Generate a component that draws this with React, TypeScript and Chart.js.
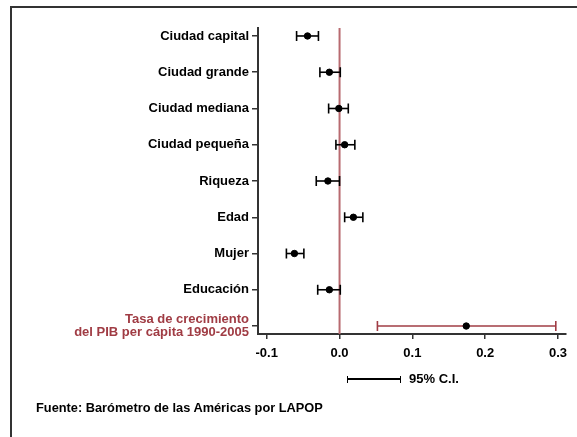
import React, { useEffect, useRef } from "react";
import { Chart, registerables } from "chart.js";

Chart.register(...registerables);

const categories = [
  "Ciudad capital",
  "Ciudad grande",
  "Ciudad mediana",
  "Ciudad pequeña",
  "Riqueza",
  "Edad",
  "Mujer",
  "Educación",
  "Tasa de crecimiento|del PIB per cápita 1990-2005",
];
const estimates = [-0.044, -0.014, -0.001, 0.007, -0.016, 0.019, -0.062, -0.014, 0.174];
const lowerCI = [-0.059, -0.027, -0.015, -0.005, -0.032, 0.007, -0.073, -0.03, 0.052];
const upperCI = [-0.029, 0.001, 0.012, 0.021, 0.0, 0.032, -0.049, 0.001, 0.297];
const xTicks = [-0.1, 0.0, 0.1, 0.2, 0.3];

const RED = "#a03c44";
const ZERO = "#b86a70";
const FONT = "'Liberation Sans', Arial, sans-serif";

export default function App() {
  const ref = useRef<HTMLCanvasElement | null>(null);

  useEffect(() => {
    document.body.style.margin = "0";
    const ctx = ref.current!;
    const ciSets = categories.map((c, i) => {
      const col = i === categories.length - 1 ? RED : "#000";
      return {
        type: "line" as const,
        order: 2,
        data: [
          { x: lowerCI[i], y: i + 1 },
          { x: upperCI[i], y: i + 1 },
        ],
        borderColor: col,
        borderWidth: 1.6,
        pointStyle: "line" as const,
        rotation: 90,
        pointRadius: 5,
        pointBorderColor: col,
        pointBorderWidth: 1.6,
        showLine: true,
        fill: false,
      };
    });
    const zeroPlugin = {
      id: "zeroLine",
      beforeDatasetsDraw(chart: any) {
        const x = chart.scales.x.getPixelForValue(0);
        const { top, bottom } = chart.chartArea;
        const c = chart.ctx;
        c.save();
        c.strokeStyle = ZERO;
        c.lineWidth = 2;
        c.beginPath();
        c.moveTo(x, top);
        c.lineTo(x, bottom);
        c.stroke();
        c.restore();
      },
    };
    const chart = new Chart(ctx, {
      type: "scatter",
      data: {
        datasets: [
          ...ciSets,
          {
            type: "scatter" as const,
            order: 0,
            data: estimates.map((v, i) => ({ x: v, y: i + 1 })),
            backgroundColor: "#000",
            borderColor: "#000",
            pointRadius: 3.2,
          },
        ] as any,
      },
      options: {
        animation: false,
        responsive: false,
        maintainAspectRatio: false,
        layout: { padding: { top: 28, right: 11, left: 0, bottom: 0 } },
        plugins: { legend: { display: false }, tooltip: { enabled: false } },
        scales: {
          x: {
            type: "linear",
            min: -0.112,
            max: 0.311,
            afterBuildTicks: (s: any) => {
              s.ticks = xTicks.map((v) => ({ value: v }));
            },
            afterFit: (s: any) => {
              s.height = 437 - 334;
            },
            border: { display: true, color: "#333", width: 2 },
            grid: { drawOnChartArea: false, drawTicks: true, tickLength: 5, color: "#333", lineWidth: 1.5 },
            ticks: {
              color: "#000",
              font: { family: FONT, size: 13, weight: "bold" },
              padding: 7,
              callback: (v: any) => Number(v).toFixed(1),
            },
          },
          y: {
            type: "linear",
            reverse: true,
            min: 0.78,
            max: 9.22,
            afterBuildTicks: (s: any) => {
              s.ticks = categories.map((_, i) => ({ value: i + 1 }));
            },
            afterFit: (s: any) => {
              s.width = 258;
            },
            border: { display: true, color: "#333", width: 2 },
            grid: { drawOnChartArea: false, drawTicks: true, tickLength: 6, color: "#333", lineWidth: 1.5 },
            ticks: {
              color: (c: any) => (c.index === categories.length - 1 ? RED : "#000"),
              font: { family: FONT, size: 13, weight: "bold", lineHeight: 0.95 },
              padding: 3,
              callback: (v: any) => {
                const lab = categories[Math.round(Number(v)) - 1] || "";
                return lab.includes("|") ? lab.split("|") : lab;
              },
            },
          },
        },
      },
      plugins: [zeroPlugin],
    } as any);
    return () => chart.destroy();
  }, []);

  return (
    <div style={{ position: "absolute", left: 0, top: 0, width: 577, height: 437, background: "#fff", overflow: "hidden" }}>
      <div
        style={{
          position: "absolute",
          left: 10,
          top: 6,
          width: 600,
          height: 500,
          borderTop: "2px solid #333",
          borderLeft: "2px solid #333",
        }}
      />
      <canvas ref={ref} width={577} height={437} style={{ position: "absolute", left: 0, top: 0 }} />
      <div
        style={{
          position: "absolute",
          left: 347,
          top: 376,
          width: 54,
          height: 7,
          borderLeft: "1.5px solid #000",
          borderRight: "1.5px solid #000",
          boxSizing: "border-box",
        }}
      >
        <div style={{ position: "absolute", left: 0, right: 0, top: 2, height: 2, background: "#000" }} />
      </div>
      <div
        style={{
          position: "absolute",
          left: 409,
          top: 371,
          fontFamily: FONT,
          fontWeight: "bold",
          fontSize: 13,
          lineHeight: "16px",
          color: "#000",
          whiteSpace: "nowrap",
        }}
      >
        95% C.I.
      </div>
      <div
        style={{
          position: "absolute",
          left: 36,
          top: 400,
          fontFamily: FONT,
          fontWeight: "bold",
          fontSize: 12.8,
          lineHeight: "16px",
          color: "#000",
          whiteSpace: "nowrap",
        }}
      >
        Fuente: Barómetro de las Américas por LAPOP
      </div>
    </div>
  );
}
